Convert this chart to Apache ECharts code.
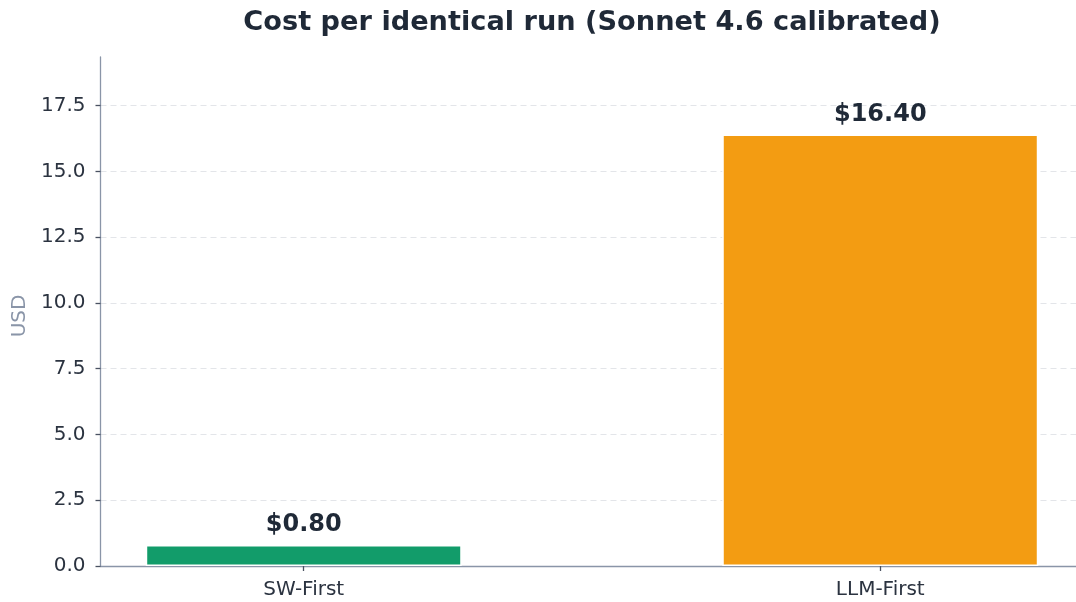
<!DOCTYPE html>
<html>
<head>
<meta charset="utf-8">
<script src="https://cdn.jsdelivr.net/npm/echarts@6/dist/echarts.min.js"></script>
<style>
  html, body { margin: 0; padding: 0; background: #ffffff; overflow: hidden; }
  /* canvas is a little wider than the window so the plot area runs past the right edge */
  #chart { width: 1084px; height: 602px; }
</style>
</head>
<body>
<div id="chart"></div>
<script>
// Run cost per identical run, in USD
const categories = ['SW-First', 'LLM-First'];
const costs = [0.80, 16.40];
const barColors = ['#129c6a', '#f39c12'];
const yTicks = [0, 2.5, 5, 7.5, 10, 12.5, 15, 17.5];

const FONT = '"DejaVu Sans", sans-serif';
const AXIS_COLOR = '#8a95a8';
const TEXT_COLOR = '#2b3340';

const chart = echarts.init(document.getElementById('chart'), null, { renderer: 'canvas' });

chart.setOption({
  animation: false,
  backgroundColor: '#ffffff',
  title: {
    text: 'Cost per identical run (Sonnet 4.6 calibrated)',
    left: 587,
    textAlign: 'center',
    top: 4,
    textStyle: { fontFamily: FONT, fontWeight: 'bold', fontSize: 27.2, color: '#1f2937' }
  },
  grid: { left: 100.5, right: 0.5, top: 57, bottom: 36, containLabel: false },
  xAxis: {
    type: 'value',
    min: -0.3525,
    max: 1.3525,
    splitLine: { show: false },
    axisLine: { show: true, onZero: false, lineStyle: { color: AXIS_COLOR, width: 1.3 } },
    axisTick: { show: true, customValues: [0, 1], length: 5, lineStyle: { color: '#4a5262', width: 1.3 } },
    axisLabel: {
      customValues: [0, 1],
      formatter: v => categories[Math.round(v)],
      margin: 14,
      fontFamily: FONT,
      fontSize: 20,
      color: TEXT_COLOR
    }
  },
  yAxis: {
    type: 'value',
    min: 0,
    max: 19.35,
    interval: 2.5,
    name: 'USD',
    nameLocation: 'middle',
    nameGap: 70,
    nameRotate: 90,
    nameTextStyle: { fontFamily: FONT, fontSize: 20, color: '#8a95a8', padding: [0, 9, 0, 0] },
    axisLine: { show: true, onZero: false, lineStyle: { color: AXIS_COLOR, width: 1.3 } },
    axisTick: { show: true, customValues: yTicks, length: 5, lineStyle: { color: '#4a5262', width: 1.3 } },
    axisLabel: {
      customValues: yTicks,
      formatter: v => v.toFixed(1),
      margin: 15,
      fontFamily: FONT,
      fontSize: 20,
      color: TEXT_COLOR
    },
    splitLine: {
      show: true,
      showMinLine: false,
      showMaxLine: true,
      lineStyle: { color: '#e3e5e9', width: 1, type: [6, 4] }
    }
  },
  series: [{
    type: 'bar',
    barWidth: 316,
    data: costs.map((v, i) => ({
      value: [i, v],
      itemStyle: { color: barColors[i], borderColor: '#ffffff', borderWidth: 1.5 }
    })),
    label: {
      show: true,
      position: 'top',
      distance: 8,
      formatter: p => '$' + p.value[1].toFixed(2),
      fontFamily: FONT,
      fontWeight: 'bold',
      fontSize: 24,
      color: '#1f2937'
    }
  }]
});
</script>
</body>
</html>
